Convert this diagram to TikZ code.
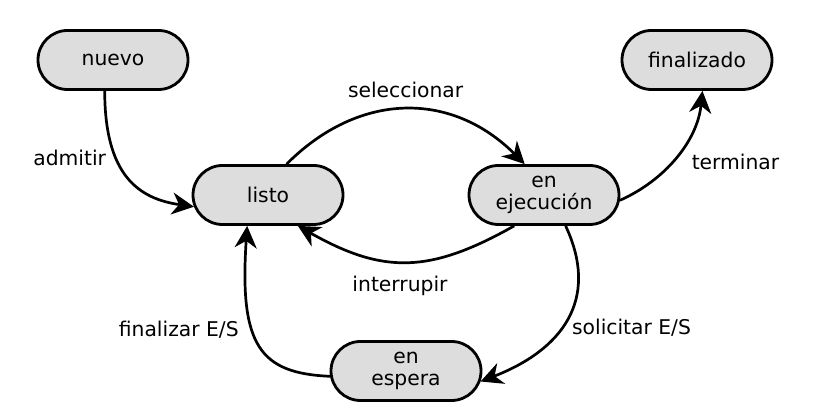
\documentclass[tikz,border=0pt]{standalone}
\usepackage{fontspec}
\setmainfont{DejaVu Sans}
\usepackage{tikz}
\usetikzlibrary{arrows.meta, shapes.misc}
\definecolor{grisclaro}{HTML}{DDDDDD}

\begin{document}
\begin{tikzpicture}[
    x=0.5pt, y=-0.5pt,
    estado/.style={draw, line width=1.4pt, fill=grisclaro, rounded rectangle, minimum width=79pt, minimum height=29.5pt, inner sep=2pt, align=center},
    flecha/.style={-{Stealth[length=11pt, width=11pt, inset=3.5pt]}, line width=1.35pt},
    every node/.style={font=\fontsize{10.15pt}{11.4pt}\selectfont}
]
\useasboundingbox (0,0) rectangle (824,415);

% Estados
\node[estado] (nuevo) at (113,60) {nuevo};
\node[estado] (listo) at (268,195) {listo};
\node[estado] (ejec) at (544,195) {en\\ejecución};
\node[estado] (espera) at (406,371) {en\\espera};
\node[estado] (final) at (697,60) {finalizado};

% Transiciones
\draw[flecha] (nuevo.255) .. controls +(0,85) and +(-55,-8) .. node[pos=0.34, left=1pt] {admitir} (listo.189);
\draw[flecha] (listo.59) .. controls +(73,-73) and +(-73,-73) .. node[midway, above=2pt] {seleccionar} (ejec.122);
\draw[flecha] (ejec.226) .. controls +(-85,48) and +(85,48) .. node[midway, below=3pt, xshift=-3pt] {interrupir} (listo.314);
\draw[flecha] (ejec.305) .. controls +(35,75) and +(80,-31) .. node[pos=0.55, right=1.5pt] {solicitar E/S} (espera.352);
\draw[flecha] (espera.184) .. controls +(-70,-3) and +(-8,120) .. node[pos=0.6, left=3pt] {finalizar E/S} (listo.236);
\draw[flecha] (ejec.356) .. controls +(45,-20) and +(-5,50) .. node[pos=0.45, right=6pt] {terminar} (final.280);

\end{tikzpicture}
\end{document}
